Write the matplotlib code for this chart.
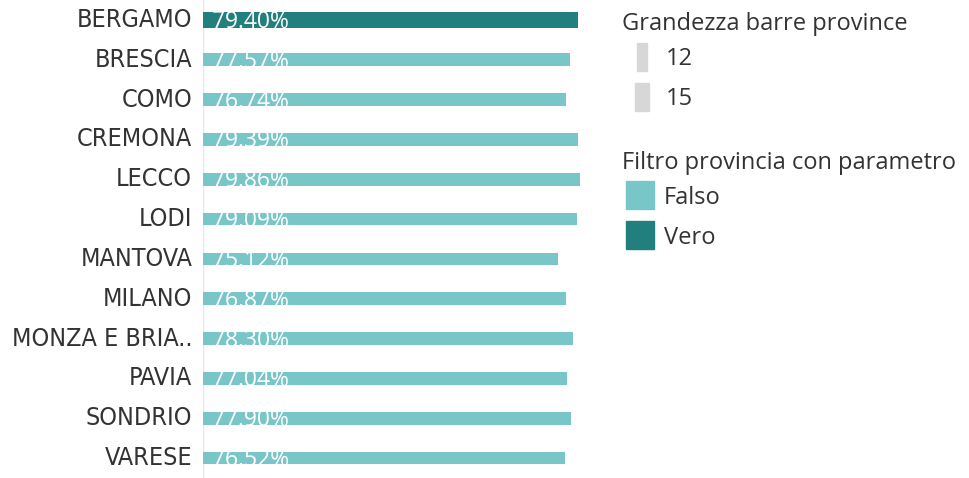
import matplotlib.pyplot as plt
from matplotlib.patches import Rectangle

province = ['BERGAMO', 'BRESCIA', 'COMO', 'CREMONA', 'LECCO', 'LODI', 'MANTOVA',
            'MILANO', 'MONZA E BRIA..', 'PAVIA', 'SONDRIO', 'VARESE']
valori = [79.40, 77.57, 76.74, 79.39, 79.86, 79.09, 75.12, 76.87, 78.30, 77.04, 77.90, 76.52]
grandezza = [15, 12, 12, 12, 12, 12, 12, 12, 12, 12, 12, 12]
filtro = ['Vero', 'Falso', 'Falso', 'Falso', 'Falso', 'Falso', 'Falso',
          'Falso', 'Falso', 'Falso', 'Falso', 'Falso']
legenda_grandezza = ['12', '15']
legenda_filtro = ['Falso', 'Vero']

colori = {'Falso': '#79c6c8', 'Vero': '#21807d'}
testo = '#333333'
W, H = 969, 478

fig = plt.figure(figsize=(W / 100, H / 100), dpi=100)
ax = fig.add_axes([203 / W, 0, 397 / W, 1])
ax.set_xlim(0, 397 / 4.725)
ax.set_ylim(11.5, -0.5)
ax.axis('off')
ax.axvline(0, color='#e6e6e6', lw=1, zorder=0)

for i, (p, v, g, f) in enumerate(zip(province, valori, grandezza, filtro)):
    bar = ax.barh(i, v, height=g / 37.5, color=colori[f], zorder=2)[0]
    t = ax.text(1.8, i + 0.2, f'{v:.2f}%', color='white', fontsize=16.5,
                family='Open Sans', va='baseline', ha='left', zorder=3)
    t.set_clip_path(bar)
    ax.text(-2.3, i, p, color=testo, fontsize=18, family='DejaVu Sans',
            stretch='condensed', va='center', ha='right')

# legenda dimensione
fig.text(622 / W, 1 - 24 / H, 'Grandezza barre province', fontsize=17,
         family='Open Sans', color=testo, va='center', ha='left')
for lab, (x0, w, y0) in zip(legenda_grandezza, [(637, 10, 43), (635, 14, 83)]):
    fig.add_artist(Rectangle((x0 / W, 1 - (y0 + 28) / H), w / W, 28 / H,
                             transform=fig.transFigure, color='#d7d7d7'))
    fig.text(666 / W, 1 - (y0 + 16) / H, lab, fontsize=17, family='Open Sans',
             color=testo, va='center', ha='left')

# legenda colore
fig.text(622 / W, 1 - 163 / H, 'Filtro provincia con parametro', fontsize=17,
         family='Open Sans', color=testo, va='center', ha='left')
for lab, y0 in zip(legenda_filtro, [181, 221]):
    fig.add_artist(Rectangle((626 / W, 1 - (y0 + 28) / H), 28 / W, 28 / H,
                             transform=fig.transFigure, color=colori[lab]))
    fig.text(664 / W, 1 - (y0 + 17) / H, lab, fontsize=17, family='Open Sans',
             color=testo, va='center', ha='left')

fig.savefig('out.png', dpi=100)
